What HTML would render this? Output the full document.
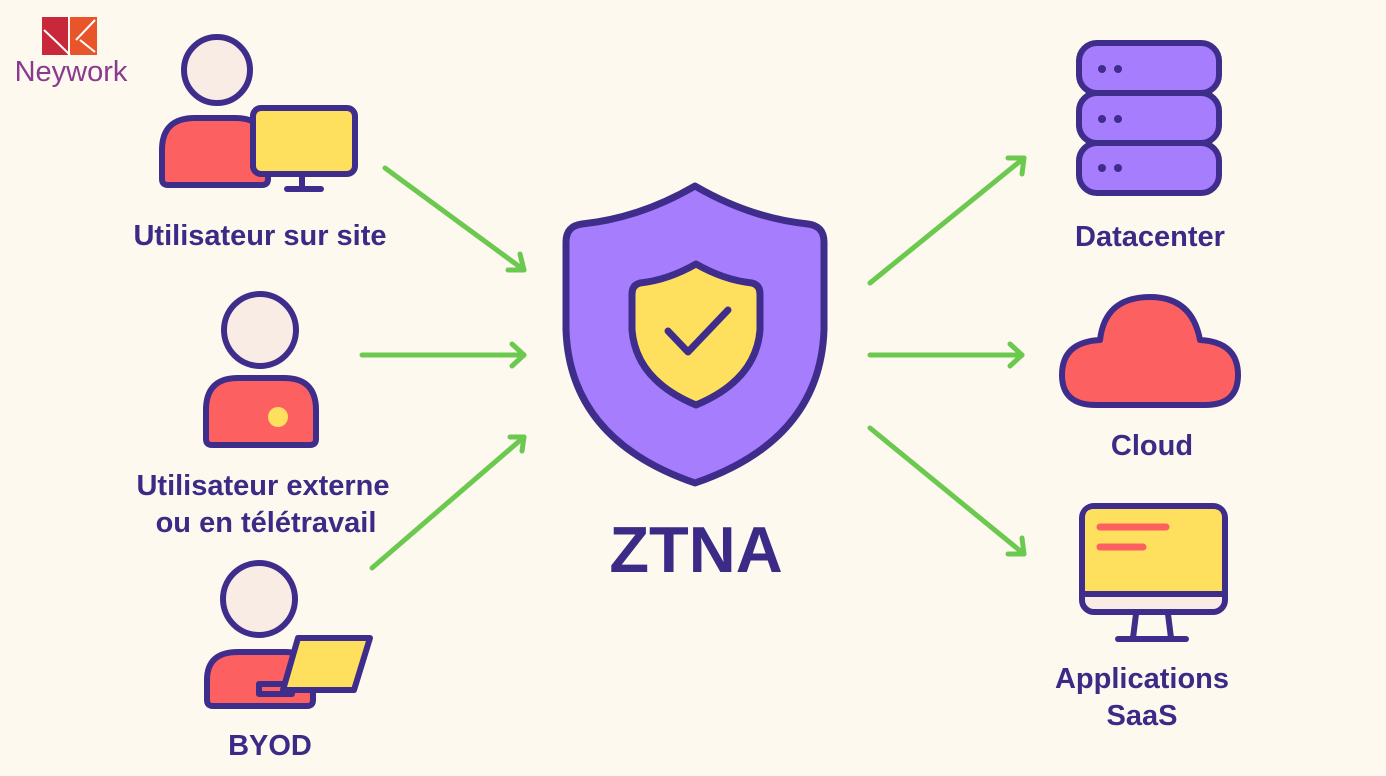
<!DOCTYPE html>
<html><head><meta charset="utf-8"><style>
html,body{margin:0;padding:0;background:#fdf9ee;}
svg{display:block}
text{font-family:"Liberation Sans",sans-serif;font-weight:bold;fill:#3b2a86;text-anchor:middle}
</style></head><body>
<svg width="1386" height="776" viewBox="0 0 1386 776" xmlns="http://www.w3.org/2000/svg">
<rect width="1386" height="776" fill="#fdf9ee"/>
<!-- logo -->
<polygon points="42,17 68,17 68,55 42,55" fill="#c8283a"/>
<polygon points="70,17 97,17 97,55 70,55" fill="#e8552a"/>
<path d="M44,30 Q60,45 70,55" stroke="#fff" stroke-width="2" fill="none"/>
<path d="M76,40 L95,20 M80,40 L95,52" stroke="#fff" stroke-width="2" fill="none"/>
<text x="71" y="81" style="font-weight:normal;font-size:29px;fill:#8a3a8f">Neywork</text>

<g stroke="#3f2d8c" stroke-width="6" stroke-linejoin="round" stroke-linecap="round">
<!-- user 1 -->
<circle cx="217" cy="70" r="33" fill="#f8ece4"/>
<path d="M162,179 L162,150 Q162,118 195,118 L235,118 Q268,118 268,150 L268,179 Q268,185 262,185 L168,185 Q162,185 162,179 Z" fill="#fd6060"/>
<rect x="253" y="108" width="102" height="66" rx="8" fill="#fedf5e"/>
<line x1="302" y1="176" x2="302" y2="187"/>
<line x1="287" y1="189" x2="321" y2="189"/>
<!-- user 2 -->
<circle cx="260" cy="330" r="36" fill="#f8ece4"/>
<path d="M206,439 L206,410 Q206,378 238,378 L284,378 Q316,378 316,410 L316,439 Q316,445 310,445 L212,445 Q206,445 206,439 Z" fill="#fd6060"/>
<!-- user 3 -->
<circle cx="259" cy="599" r="36" fill="#f8ece4"/>
<path d="M207,700 L207,680 Q207,652 238,652 L285,652 Q313,652 313,680 L313,700 Q313,706 307,706 L213,706 Q207,706 207,700 Z" fill="#fd6060"/>
<path d="M259,684 L292,684 L292,694 L259,694 Z" fill="#fd6060"/>
<polygon points="298,638 370,638 354,690 283,690" fill="#fedf5e"/>
</g>
<circle cx="278" cy="417" r="10" fill="#fedf5e"/>

<!-- arrows -->
<g stroke="#6cc94f" stroke-width="5" stroke-linecap="round" stroke-linejoin="round" fill="none">
<line x1="385" y1="168" x2="524" y2="270"/><polyline points="508,270 524,270 520,254"/>
<line x1="362" y1="355" x2="524" y2="355"/><polyline points="512,344 524,355 512,366"/>
<line x1="372" y1="568" x2="524" y2="437"/><polyline points="510,437 524,437 522,451"/>
<line x1="870" y1="283" x2="1024" y2="158"/><polyline points="1008,158 1024,158 1022,174"/>
<line x1="870" y1="355" x2="1022" y2="355"/><polyline points="1010,344 1022,355 1010,366"/>
<line x1="870" y1="428" x2="1024" y2="554"/><polyline points="1022,538 1024,554 1008,554"/>
</g>

<!-- shield -->
<g stroke="#3f2d8c" stroke-width="7" stroke-linejoin="round" stroke-linecap="round">
<path d="M695,186 Q640,218 582,224 Q566,226 566,242 L566,330 Q570,440 695,483 Q820,440 824,330 L824,242 Q824,226 808,224 Q750,218 695,186 Z" fill="#a67dfc"/>
<path d="M696,264 Q668,280 640,283 Q632,285 632,294 L632,330 Q636,380 696,405 Q756,380 760,330 L760,294 Q760,285 752,283 Q724,280 696,264 Z" fill="#fedf5e"/>
<polyline points="668,331 688,352 728,310" fill="none" stroke-width="7"/>
</g>
<text x="696" y="572" style="font-size:65px">ZTNA</text>

<!-- servers -->
<g stroke="#3f2d8c" stroke-width="6" fill="#a67dfc">
<rect x="1079" y="43" width="140" height="50" rx="18"/>
<rect x="1079" y="93" width="140" height="50" rx="18"/>
<rect x="1079" y="143" width="140" height="50" rx="18"/>
</g>
<g fill="#3f2d8c">
<circle cx="1102" cy="69" r="4"/><circle cx="1118" cy="69" r="4"/>
<circle cx="1102" cy="119" r="4"/><circle cx="1118" cy="119" r="4"/>
<circle cx="1102" cy="168" r="4"/><circle cx="1118" cy="168" r="4"/>
</g>
<!-- cloud -->
<path d="M1096,405 Q1062,405 1062,375 Q1062,342 1100,340 Q1105,297 1150,297 Q1192,297 1200,340 Q1238,342 1238,375 Q1238,405 1205,405 Z" fill="#fd6060" stroke="#3f2d8c" stroke-width="6" stroke-linejoin="round"/>
<!-- monitor -->
<g stroke="#3f2d8c" stroke-width="6" stroke-linejoin="round" stroke-linecap="round">
<rect x="1082" y="506" width="143" height="106" rx="12" fill="#f8ece4"/>
<path d="M1085,594 L1085,518 Q1085,509 1094,509 L1213,509 Q1222,509 1222,518 L1222,594 Z" fill="#fedf5e" stroke="none"/>
<line x1="1082" y1="594" x2="1225" y2="594"/>
<line x1="1136" y1="614" x2="1133" y2="638"/>
<line x1="1168" y1="614" x2="1171" y2="638"/>
<line x1="1118" y1="639" x2="1186" y2="639"/>
</g>
<g stroke="#fd6060" stroke-width="7" stroke-linecap="round">
<line x1="1100" y1="527" x2="1166" y2="527"/>
<line x1="1100" y1="547" x2="1143" y2="547"/>
</g>

<!-- labels -->
<g style="font-size:29px">
<text x="260" y="245">Utilisateur sur site</text>
<text x="263" y="495">Utilisateur externe</text>
<text x="266" y="532">ou en télétravail</text>
<text x="270" y="755">BYOD</text>
<text x="1150" y="246">Datacenter</text>
<text x="1152" y="455">Cloud</text>
<text x="1142" y="688">Applications</text>
<text x="1142" y="725">SaaS</text>
</g>
</svg>
</body></html>
